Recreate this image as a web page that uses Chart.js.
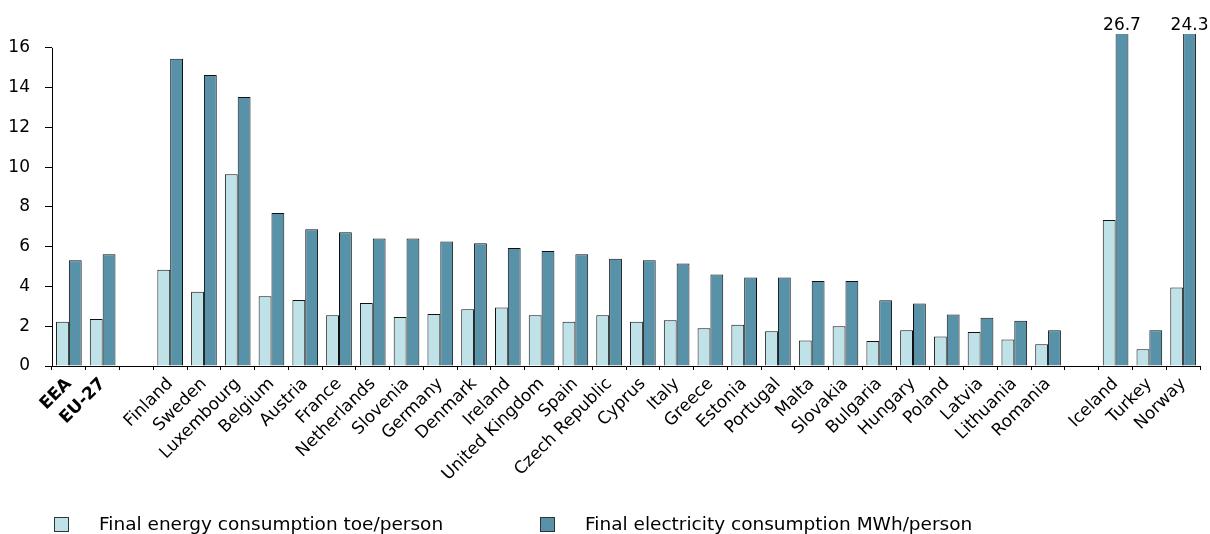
<!DOCTYPE html>
<html>
<head>
<meta charset="utf-8">
<script src="https://cdn.jsdelivr.net/npm/chart.js@4/dist/chart.umd.min.js"></script>
<style>
    html, body { margin: 0; padding: 0; background: #fff; }
    #wrap { width: 1210px; height: 534px; position: relative; }
</style>
</head>
<body>
<div id="wrap"><canvas id="chart"></canvas></div>
<script>
// empty strings are the spacer columns between the groups
const countries = [
    'EEA', 'EU-27', '',
    'Finland', 'Sweden', 'Luxembourg', 'Belgium', 'Austria', 'France', 'Netherlands',
    'Slovenia', 'Germany', 'Denmark', 'Ireland', 'United Kingdom', 'Spain', 'Czech Republic',
    'Cyprus', 'Italy', 'Greece', 'Estonia', 'Portugal', 'Malta', 'Slovakia', 'Bulgaria',
    'Hungary', 'Poland', 'Latvia', 'Lithuania', 'Romania', '',
    'Iceland', 'Turkey', 'Norway'
];
const energyToe = [
    2.23, 2.37, null,
    4.84, 3.73, 9.65, 3.51, 3.32, 2.55, 3.17,
    2.47, 2.62, 2.85, 2.94, 2.55, 2.23, 2.55,
    2.23, 2.30, 1.90, 2.08, 1.75, 1.28, 2.00, 1.26,
    1.80, 1.48, 1.71, 1.33, 1.09, null,
    7.34, 0.84, 3.95
];
const electricityMWh = [
    5.32, 5.62, null,
    15.45, 14.64, 13.53, 7.69, 6.88, 6.73, 6.41,
    6.41, 6.26, 6.18, 5.94, 5.79, 5.62, 5.39,
    5.32, 5.15, 4.60, 4.45, 4.45, 4.28, 4.28, 3.31,
    3.14, 2.59, 2.43, 2.27, 1.80, null,
    26.7, 1.80, 24.3
];
const seriesNames = ['Final energy consumption toe/person', 'Final electricity consumption MWh/person'];
const yTicks = [0, 2, 4, 6, 8, 10, 12, 14, 16];
const yTop = 16.7;

const FONT = '"DejaVu Sans", Verdana, sans-serif';
const lightFill = '#bfe2e9';
const darkFill = '#5892a9';

// y axis line only runs up to the last labelled tick
const axisLine = {
    id: 'axisLine',
    afterDraw(chart) {
        const ctx = chart.ctx;
        const y = chart.scales.y;
        const a = chart.chartArea;
        ctx.save();
        ctx.strokeStyle = '#000';
        ctx.lineWidth = 1;
        ctx.beginPath();
        ctx.moveTo(a.left + 0.5, y.getPixelForValue(yTicks[yTicks.length - 1]));
        ctx.lineTo(a.left + 0.5, a.bottom);
        ctx.stroke();
        ctx.restore();
    }
};

// values that run past the axis get printed above their bar
const overflowLabels = {
    id: 'overflowLabels',
    afterDatasetsDraw(chart) {
        const ctx = chart.ctx;
        ctx.save();
        ctx.font = '17px ' + FONT;
        ctx.fillStyle = '#000';
        ctx.textAlign = 'center';
        ctx.textBaseline = 'alphabetic';
        chart.data.datasets.forEach((ds, di) => {
            const meta = chart.getDatasetMeta(di);
            ds.data.forEach((v, i) => {
                if (v !== null && v > yTop) {
                    ctx.fillText(v.toFixed(1), meta.data[i].x, chart.chartArea.top - 4);
                }
            });
        });
        ctx.restore();
    }
};

// legend laid out like the original: two entries at fixed spots along the bottom
const bottomLegend = {
    id: 'bottomLegend',
    afterDraw(chart) {
        const ctx = chart.ctx;
        const spots = [54, 540];
        const top = 517;
        ctx.save();
        ctx.font = '18.5px ' + FONT;
        ctx.textBaseline = 'middle';
        ctx.textAlign = 'left';
        chart.data.datasets.forEach((ds, i) => {
            const x = spots[i];
            ctx.fillStyle = ds.backgroundColor;
            ctx.fillRect(x, top, 15, 15);
            ctx.strokeStyle = '#333';
            ctx.lineWidth = 1;
            ctx.strokeRect(x + 0.5, top + 0.5, 14, 14);
            ctx.fillStyle = '#000';
            ctx.fillText(ds.label, x + 45, top + 8);
        });
        ctx.restore();
    }
};

const chart = new Chart(document.getElementById('chart'), {
    type: 'bar',
    data: {
        labels: countries,
        datasets: [
            {
                label: seriesNames[0],
                data: energyToe,
                backgroundColor: lightFill,
                borderColor: '#111',
                borderWidth: 1,
                categoryPercentage: 0.76,
                barPercentage: 1.0
            },
            {
                label: seriesNames[1],
                data: electricityMWh,
                backgroundColor: darkFill,
                borderColor: '#111',
                borderWidth: 1,
                categoryPercentage: 0.76,
                barPercentage: 1.0
            }
        ]
    },
    options: {
        responsive: true,
        maintainAspectRatio: false,
        animation: false,
        layout: { padding: { top: 34, left: 8, right: 10, bottom: 0 } },
        plugins: {
            legend: { display: false },
            tooltip: { enabled: false }
        },
        scales: {
            x: {
                grid: {
                    offset: true,
                    drawOnChartArea: false,
                    drawTicks: true,
                    tickLength: 4,
                    color: '#000'
                },
                border: { display: true, color: '#000', width: 1 },
                ticks: {
                    autoSkip: false,
                    minRotation: 45,
                    maxRotation: 45,
                    padding: 4,
                    color: '#000',
                    font: ctx => ({ family: FONT, size: 17, weight: ctx.index < 2 ? 'bold' : 'normal' })
                },
                afterFit: s => { s.height = 168; }
            },
            y: {
                min: 0,
                max: yTop,
                afterBuildTicks: s => { s.ticks = yTicks.map(v => ({ value: v })); },
                grid: {
                    drawOnChartArea: false,
                    drawTicks: true,
                    tickLength: 7,
                    color: '#000'
                },
                border: { display: false },
                ticks: {
                    padding: 15,
                    color: '#000',
                    font: { family: FONT, size: 17 }
                },
                afterFit: s => { s.width = 44; }
            }
        }
    },
    plugins: [axisLine, overflowLabels, bottomLegend]
});
</script>
</body>
</html>
